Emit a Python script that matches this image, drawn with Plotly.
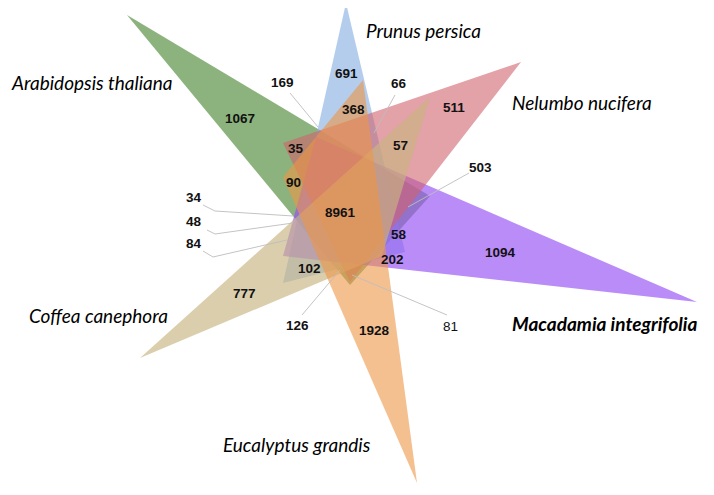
import plotly.graph_objects as go

# ---- data ----
set_names = ["Arabidopsis thaliana", "Prunus persica", "Nelumbo nucifera",
             "Macadamia integrifolia", "Eucalyptus grandis", "Coffea canephora"]
region_counts = [1067, 691, 511, 1094, 1928, 777, 8961, 368, 35, 90, 57, 58, 202, 102,
                 169, 66, 503, 34, 48, 84, 126, 81]

# ---- layout (pixel space, y downward) ----
W, H = 714, 495
OFF = 8  # page body margin
tri = {
    "Arabidopsis thaliana": [(127, 15), (350, 285), (430, 196)],
    "Prunus persica": [(346, 3), (283, 283), (405, 252)],
    "Nelumbo nucifera": [(521, 62), (283, 143), (350, 282)],
    "Coffea canephora": [(140, 358), (430, 97), (382, 256)],
    "Eucalyptus grandis": [(417, 483), (283, 177), (363, 80)],
    "Macadamia integrifolia": [(697, 302), (283, 256), (316, 137)],
}
fills = {
    "Arabidopsis thaliana": "rgba(95,150,75,0.72)",
    "Prunus persica": "rgba(135,175,225,0.62)",
    "Nelumbo nucifera": "rgba(208,98,110,0.6)",
    "Coffea canephora": "rgba(200,180,130,0.66)",
    "Eucalyptus grandis": "rgba(236,150,70,0.6)",
    "Macadamia integrifolia": "rgba(150,80,245,0.66)",
}
draw_order = ["Arabidopsis thaliana", "Prunus persica", "Macadamia integrifolia",
              "Nelumbo nucifera", "Coffea canephora", "Eucalyptus grandis"]
name_pos = {
    "Arabidopsis thaliana": (9, 82),
    "Prunus persica": (364, 30),
    "Nelumbo nucifera": (510, 102),
    "Coffea canephora": (27, 315),
    "Eucalyptus grandis": (221, 444),
    "Macadamia integrifolia": (510, 323),
}
count_pos = [(240, 118), (346, 73), (454, 107), (500, 252), (374, 330), (244, 293),
             (340, 212), (353, 109), (296, 148), (293, 182), (400, 145), (399, 234),
             (392, 259), (309, 268), (282, 82), (399, 83), (480, 167), (194, 197),
             (194, 221), (194, 243), (297, 325), (450, 326)]
leaders = [
    [(290, 93), (318, 127)],
    [(395, 95), (374, 133)],
    [(469, 173), (408, 207)],
    [(203, 205), (215, 211), (293, 216)],
    [(207, 230), (215, 234), (293, 223)],
    [(203, 251), (213, 257), (287, 240)],
    [(302, 315), (340, 270)],
    [(447, 315), (352, 275)],
]

fig = go.Figure()
for n in draw_order:
    pts = tri[n] + [tri[n][0]]
    fig.add_trace(go.Scatter(x=[p[0] for p in pts], y=[p[1] for p in pts],
                             mode="lines", fill="toself", fillcolor=fills[n],
                             line=dict(width=0), hoverinfo="skip", showlegend=False))
for seg in leaders:
    fig.add_trace(go.Scatter(x=[p[0] for p in seg], y=[p[1] for p in seg], mode="lines",
                             line=dict(color="rgba(190,190,190,0.9)", width=1),
                             hoverinfo="skip", showlegend=False))

for n in set_names:
    x, y = name_pos[n]
    bold = n == "Macadamia integrifolia"
    fig.add_annotation(x=x, y=y, xanchor="left",
                       text=(f"<b><i>{n}</i></b>" if bold else f"<i>{n}</i>"),
                       showarrow=False, font=dict(family="Lato", size=19, color="black"))

for c, (x, y) in zip(region_counts, count_pos):
    txt = str(c) if c == 81 else f"<b>{c}</b>"
    fig.add_annotation(x=x, y=y, text=txt, showarrow=False,
                       font=dict(family="Liberation Sans, Arial", size=13.5, color="#111"))

fig.update_xaxes(range=[OFF, W + OFF], visible=False)
fig.update_yaxes(range=[H + OFF, OFF], visible=False)
fig.update_layout(width=W, height=H, margin=dict(l=0, r=0, t=0, b=0),
                  plot_bgcolor="white", paper_bgcolor="white")
fig.write_html("out.html")
